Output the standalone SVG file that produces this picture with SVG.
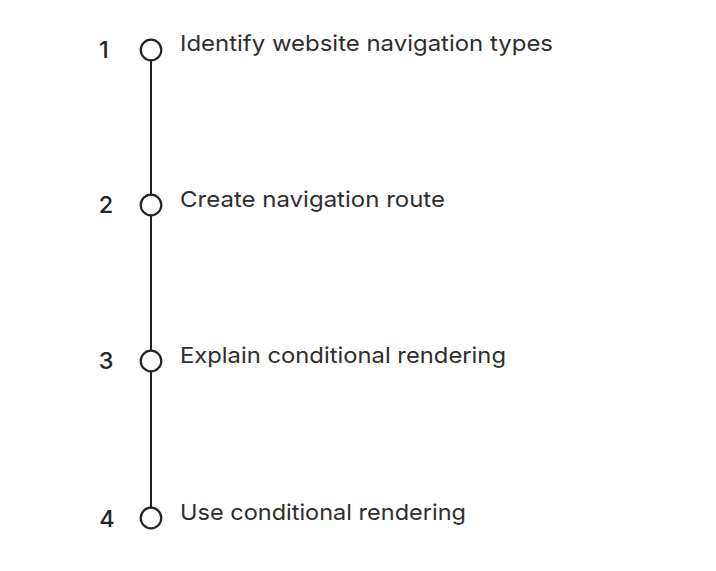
<svg xmlns="http://www.w3.org/2000/svg" width="716" height="571" viewBox="0 0 716 571">
<style>
.num{font-family:Inter,"Open Sans","Liberation Sans",sans-serif;font-size:23.5px;font-weight:500;fill:#262626;text-anchor:middle}
.lbl{font-family:Inter,"Open Sans","Liberation Sans",sans-serif;font-size:22px;font-weight:400;fill:#2e2e2e}
.node{fill:#fff;stroke:#222;stroke-width:2.2}
.conn{stroke:#222;stroke-width:2}
</style>
<rect width="716" height="571" fill="#fff"/>
<g id="connectors">
<line class="conn" x1="151" y1="60" x2="151" y2="195"/>
<line class="conn" x1="151" y1="215" x2="151" y2="351"/>
<line class="conn" x1="151" y1="371" x2="151" y2="508"/>
</g>
<g id="step1"><circle class="node" cx="151" cy="50" r="10.3"/><text class="num" x="104" y="58">1</text><text class="lbl" x="180" y="51" textLength="373" lengthAdjust="spacingAndGlyphs">Identify website navigation types</text></g>
<g id="step2"><circle class="node" cx="151" cy="205" r="10.3"/><text class="num" x="106" y="213">2</text><text class="lbl" x="180" y="207" textLength="265" lengthAdjust="spacingAndGlyphs">Create navigation route</text></g>
<g id="step3"><circle class="node" cx="151" cy="361" r="10.3"/><text class="num" x="106" y="369">3</text><text class="lbl" x="180" y="363" textLength="326" lengthAdjust="spacingAndGlyphs">Explain conditional rendering</text></g>
<g id="step4"><circle class="node" cx="151" cy="518" r="10.3"/><text class="num" x="107" y="527">4</text><text class="lbl" x="180" y="520" textLength="286" lengthAdjust="spacingAndGlyphs">Use conditional rendering</text></g>
</svg>
